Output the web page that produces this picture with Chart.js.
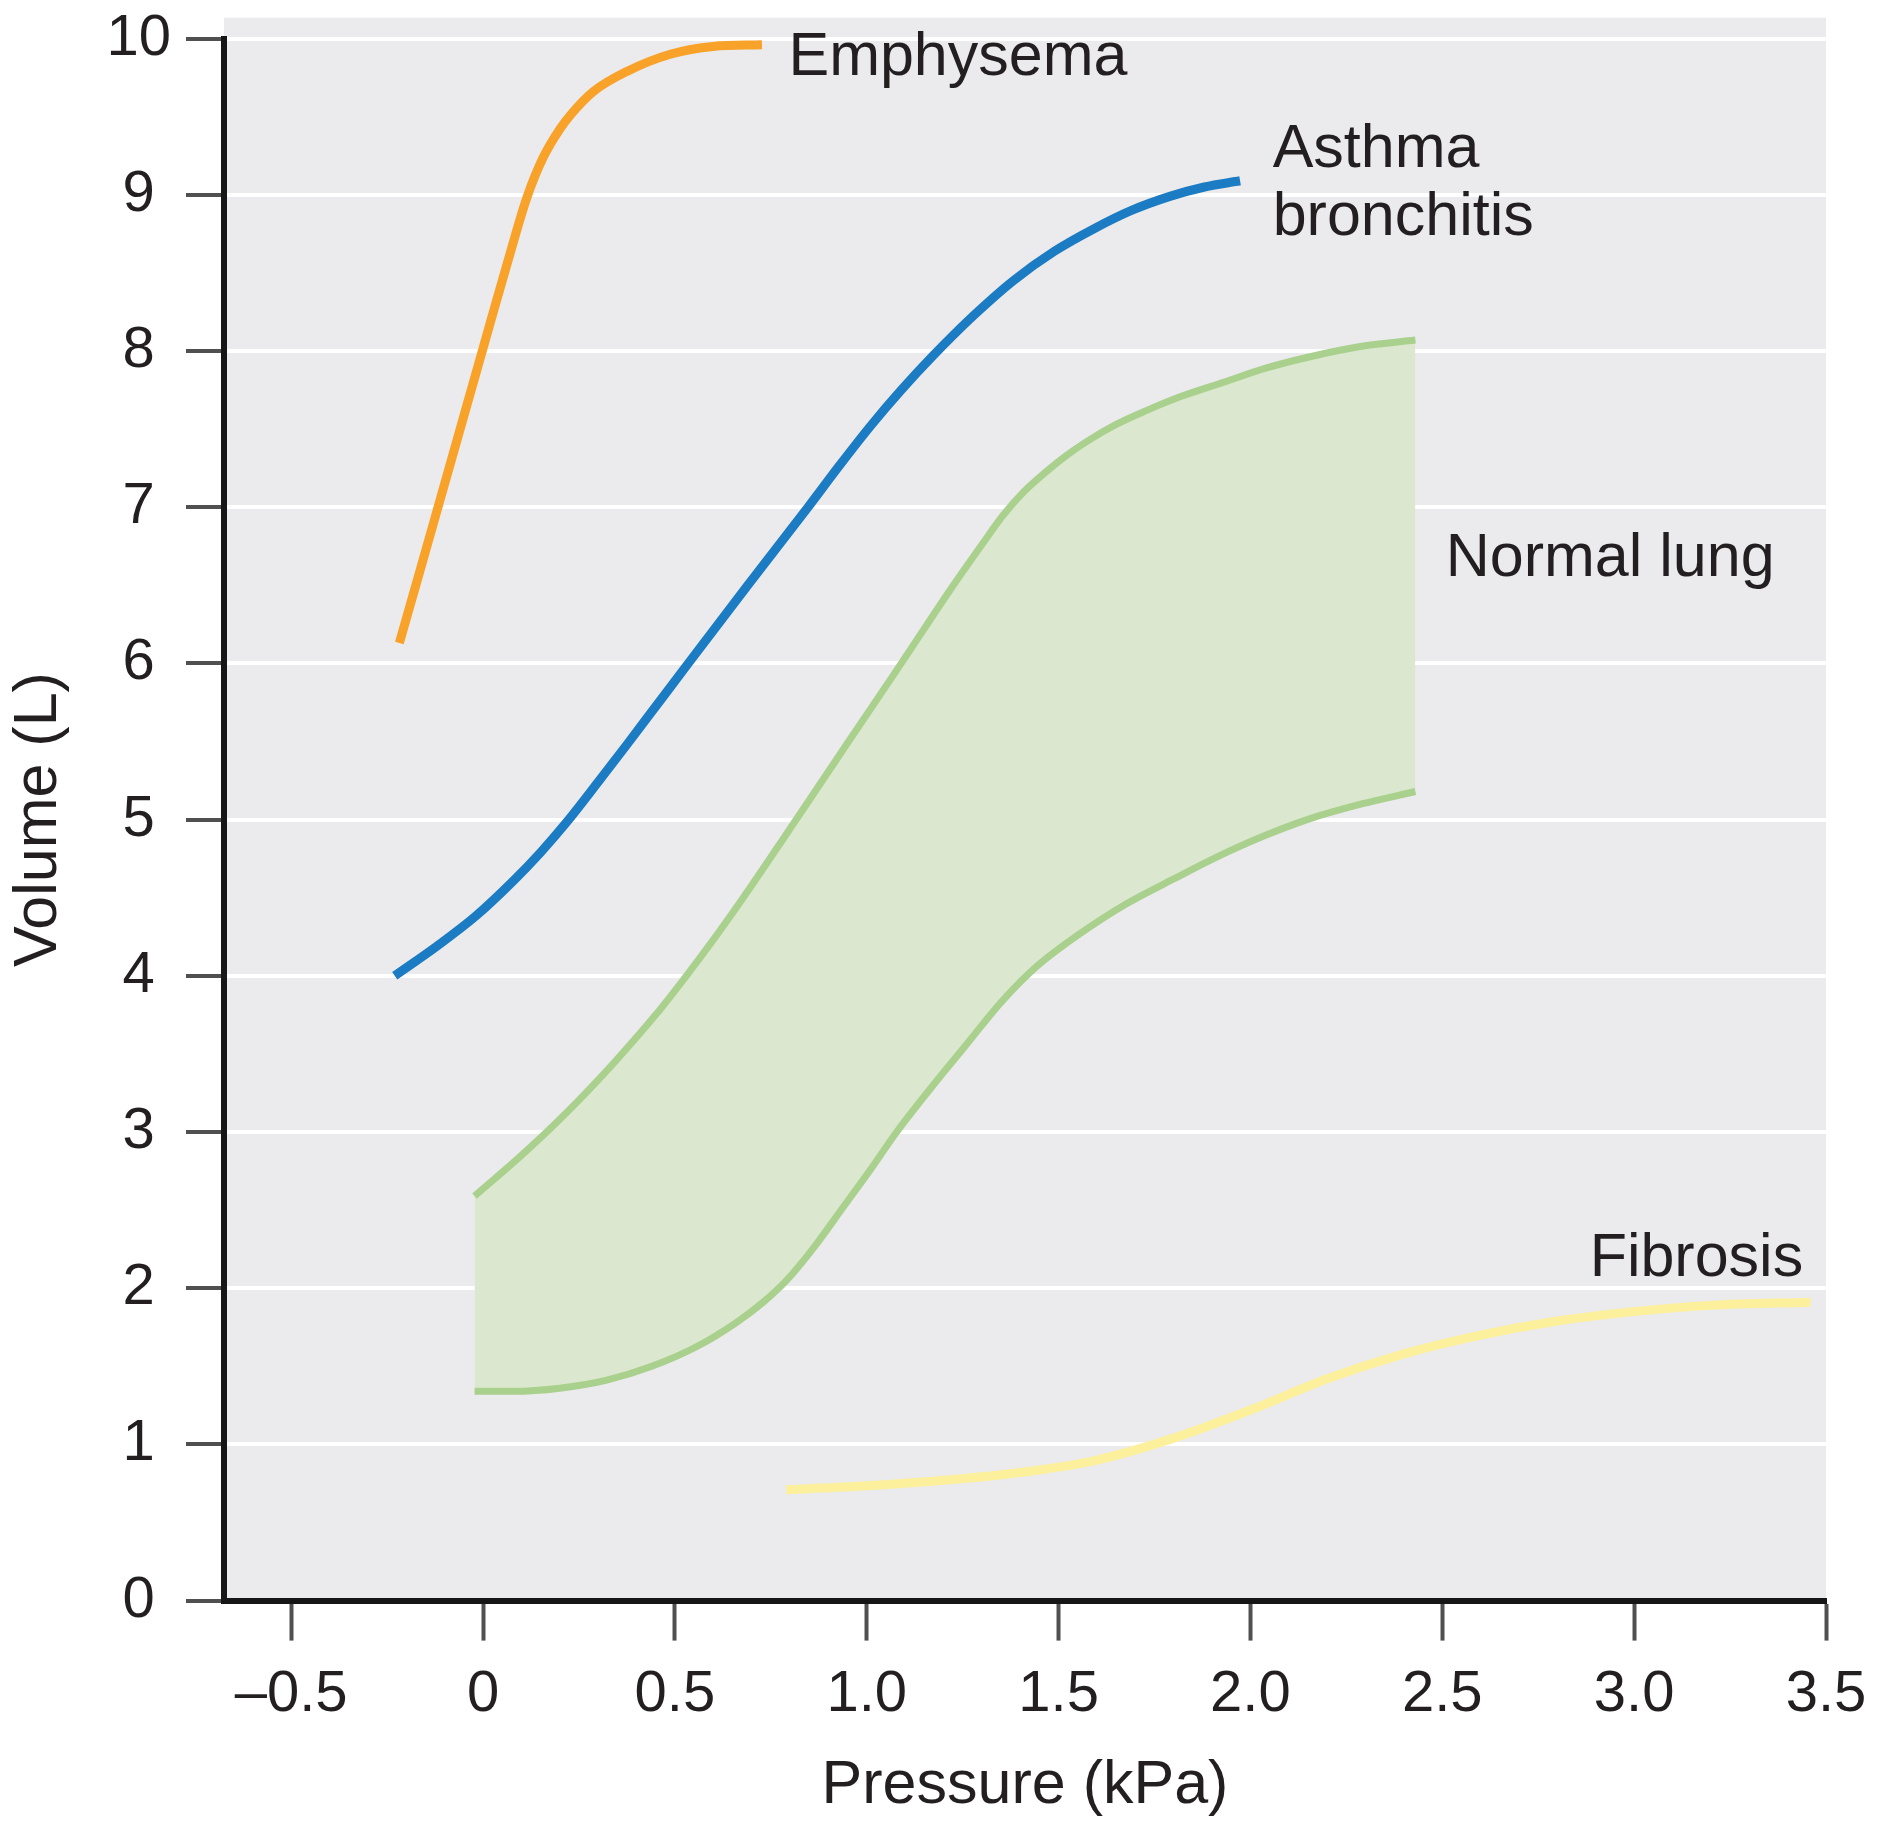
<!DOCTYPE html>
<html>
<head>
<meta charset="utf-8">
<title>Pressure-volume curves</title>
<script src="https://cdn.jsdelivr.net/npm/chart.js@4.4.1/dist/chart.umd.min.js"></script>
<style>
  html, body { margin: 0; padding: 0; background: #fff; }
  canvas { display: block; }
</style>
</head>
<body>
<canvas id="pvChart" width="1890" height="1833" style="width:1890px;height:1833px"></canvas>
<script>
// Pressure (kPa) / volume (L) pairs
const emphysemaP = [-0.218, -0.16, -0.10, -0.04, 0.02, 0.07, 0.114, 0.157, 0.20, 0.231, 0.287, 0.375, 0.488, 0.60, 0.727];
const emphysemaV = [6.13, 6.63, 7.15, 7.67, 8.19, 8.62, 8.98, 9.24, 9.42, 9.52, 9.66, 9.79, 9.90, 9.95, 9.96];

const asthmaP = [-0.23, -0.12, -0.02, 0.08, 0.15, 0.217, 0.30, 0.375, 0.455, 0.535, 0.69, 0.847, 0.93, 1.01, 1.09, 1.173, 1.28, 1.382, 1.49, 1.59, 1.69, 1.79, 1.88, 1.973];
const asthmaV = [4.0, 4.19, 4.38, 4.61, 4.79, 4.98, 5.24, 5.48, 5.74, 6.0, 6.5, 7.0, 7.27, 7.52, 7.75, 7.97, 8.23, 8.45, 8.64, 8.78, 8.90, 8.99, 9.05, 9.09];

const normalUpperP = [-0.022, 0.10, 0.22, 0.34, 0.45, 0.53, 0.60, 0.678, 0.808, 0.95, 1.09, 1.22, 1.30, 1.356, 1.41, 1.469, 1.52, 1.573, 1.65, 1.73, 1.82, 1.93, 2.04, 2.15, 2.29, 2.43];
const normalUpperV = [2.59, 2.85, 3.13, 3.44, 3.75, 4.0, 4.23, 4.5, 4.97, 5.49, 6.0, 6.48, 6.76, 6.95, 7.10, 7.23, 7.33, 7.42, 7.53, 7.62, 7.71, 7.80, 7.89, 7.96, 8.03, 8.07];

const normalLowerP = [-0.022, 0.08, 0.20, 0.32, 0.44, 0.56, 0.66, 0.73, 0.791, 0.865, 0.939, 1.01, 1.078, 1.17, 1.26, 1.35, 1.443, 1.55, 1.676, 1.80, 1.912, 2.03, 2.148, 2.29, 2.43];
const normalLowerV = [1.34, 1.34, 1.36, 1.41, 1.50, 1.63, 1.78, 1.91, 2.05, 2.27, 2.52, 2.76, 3.0, 3.29, 3.56, 3.83, 4.06, 4.26, 4.46, 4.62, 4.76, 4.89, 5.0, 5.10, 5.18];

const fibrosisP = [0.79, 1.0, 1.2, 1.4, 1.6, 1.8, 2.0, 2.2, 2.4, 2.6, 2.8, 3.0, 3.2, 3.46];
const fibrosisV = [0.71, 0.735, 0.77, 0.82, 0.90, 1.04, 1.22, 1.42, 1.58, 1.70, 1.79, 1.85, 1.89, 1.91];

const pressureTicks = [-0.5, 0, 0.5, 1.0, 1.5, 2.0, 2.5, 3.0, 3.5];
const pressureTickLabels = ['\u20130.5', '0', '0.5', '1.0', '1.5', '2.0', '2.5', '3.0', '3.5'];
const volumeTicks = [0, 1, 2, 3, 4, 5, 6, 7, 8, 9, 10];

const fontFamily = '"Liberation Sans", Arial, Helvetica, sans-serif';
const textColor = '#231f20';

// curve labels, anchored in data units (left edge, baseline)
const curveLabels = [
    { text: 'Emphysema', x: 0.796, y: 9.77 },
    { text: 'Asthma', x: 2.058, y: 9.18 },
    { text: 'bronchitis', x: 2.058, y: 8.74 },
    { text: 'Normal lung', x: 2.509, y: 6.56 },
    { text: 'Fibrosis', x: 2.884, y: 2.075 }
];

const toPoints = (xs, ys) => xs.map((x, i) => ({ x: x, y: ys[i] }));

const plotBackground = {
    id: 'plotBackground',
    beforeDraw(chart) {
        const { ctx, chartArea } = chart;
        ctx.save();
        ctx.fillStyle = '#ebebed';
        ctx.fillRect(chartArea.left, chartArea.top - 21, chartArea.right - chartArea.left, chartArea.bottom - chartArea.top + 21);
        ctx.restore();
    }
};

const curveText = {
    id: 'curveText',
    afterDraw(chart) {
        const { ctx, scales } = chart;
        ctx.save();
        ctx.font = '61px ' + fontFamily;
        ctx.fillStyle = textColor;
        ctx.textAlign = 'left';
        ctx.textBaseline = 'alphabetic';
        curveLabels.forEach(l => {
            ctx.fillText(l.text, scales.x.getPixelForValue(l.x), scales.y.getPixelForValue(l.y));
        });
        ctx.restore();
    }
};

const lineDefaults = {
    borderWidth: 9,
    pointRadius: 0,
    pointHoverRadius: 0,
    cubicInterpolationMode: 'monotone',
    fill: false
};

const ctx = document.getElementById('pvChart').getContext('2d');
new Chart(ctx, {
    type: 'line',
    data: {
        datasets: [
            { ...lineDefaults, label: 'Emphysema', data: toPoints(emphysemaP, emphysemaV), borderColor: '#f8a22a' },
            { ...lineDefaults, label: 'Asthma bronchitis', data: toPoints(asthmaP, asthmaV), borderColor: '#1b7bc3' },
            { ...lineDefaults, label: 'Normal lung (upper)', data: toPoints(normalUpperP, normalUpperV), borderColor: '#a9d18d',
              borderWidth: 7, fill: { target: 3 }, backgroundColor: '#dbe8cf' },
            { ...lineDefaults, label: 'Normal lung (lower)', data: toPoints(normalLowerP, normalLowerV), borderColor: '#a9d18d', borderWidth: 7 },
            { ...lineDefaults, label: 'Fibrosis', data: toPoints(fibrosisP, fibrosisV), borderColor: '#fcf09c' }
        ]
    },
    options: {
        responsive: false,
        animation: false,
        devicePixelRatio: 1,
        layout: { padding: { top: 38.6, right: 64, bottom: 0, left: 0 } },
        plugins: {
            legend: { display: false },
            tooltip: { enabled: false },
            filler: { drawTime: 'beforeDatasetsDraw' }
        },
        scales: {
            x: {
                type: 'linear',
                min: -0.675,
                max: 3.5,
                afterBuildTicks: axis => { axis.ticks = pressureTicks.map(v => ({ value: v })); },
                afterFit: axis => {
                    axis.height = 232.4;
                    axis.paddingLeft = 0;
                    axis.paddingRight = 0;
                },
                grid: { drawOnChartArea: false, tickLength: 40, tickColor: '#505050', tickWidth: 4 },
                border: { color: '#161616', width: 6 },
                ticks: {
                    padding: 20,
                    color: textColor,
                    font: { family: fontFamily, size: 58 },
                    maxRotation: 0,
                    autoSkip: false,
                    callback: value => pressureTickLabels[pressureTicks.indexOf(value)]
                },
                title: {
                    display: true,
                    text: 'Pressure (kPa)',
                    color: textColor,
                    font: { family: fontFamily, size: 61 },
                    padding: { top: 0, bottom: 10 }
                }
            },
            y: {
                min: 0,
                max: 10,
                afterBuildTicks: axis => { axis.ticks = volumeTicks.map(v => ({ value: v })); },
                afterFit: axis => {
                    axis.width = 224;
                    axis.paddingTop = 0;
                    axis.paddingBottom = 0;
                },
                grid: { color: '#ffffff', lineWidth: 4, tickLength: 38, tickColor: '#505050', tickWidth: 4 },
                border: { color: '#161616', width: 6 },
                ticks: {
                    padding: 15,
                    crossAlign: 'center',
                    color: textColor,
                    font: { family: fontFamily, size: 58 },
                    autoSkip: false
                },
                title: {
                    display: true,
                    text: 'Volume (L)',
                    color: textColor,
                    font: { family: fontFamily, size: 61 },
                    padding: { top: 3, bottom: 0 }
                }
            }
        }
    },
    plugins: [plotBackground, curveText]
});
</script>
</body>
</html>
